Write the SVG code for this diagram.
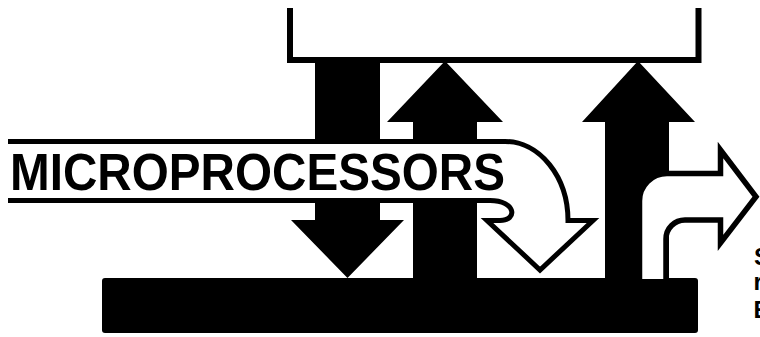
<svg xmlns="http://www.w3.org/2000/svg" width="760" height="337" viewBox="0 0 760 337">
  <style>
    .solid { fill: #000; stroke: none; }
    .hollow { fill: #fff; stroke: #000; stroke-width: 5; stroke-linejoin: miter; stroke-miterlimit: 10; }
    .outline { fill: none; stroke: #000; stroke-width: 6; stroke-linejoin: miter; }
    .label { font-family: "Liberation Sans", Arial, Helvetica, sans-serif; font-weight: bold; fill: #000; }
  </style>
  <rect width="760" height="337" fill="#fff"/>

  <g id="memory-box">
    <path class="outline" d="M290 8 V60 H698.5 V8"/>
  </g>

  <g id="connectors">
    <path id="arrow-down-1" class="solid" d="M315 60 H380 V220 H404 L347.5 278 L291 220 H315 Z"/>
    <path id="arrow-up-1" class="solid" d="M413 278 V122 H387 L445 61 L503 122 H477 V278 Z"/>
    <path id="arrow-up-2" class="solid" d="M605 278 V122 H582 L638 61 L695 122 H669 V278 Z"/>
  </g>

  <g id="microprocessors">
    <path class="hollow" d="M8 141.5 H505 A63 79 0 0 1 568 220.5 H593 L540 270 L487 220.5 H500 C518 220.5 516 200.5 490 200.5 H8"/>
    <text class="label" x="10" y="190" font-size="52" textLength="495" lengthAdjust="spacingAndGlyphs">MICROPROCESSORS</text>
  </g>

  <g id="bus">
    <rect class="solid" x="102" y="278" width="596" height="55" rx="3"/>
  </g>

  <g id="output-arrow">
    <path class="hollow" style="stroke-width:5.5" d="M639.5 279 V201 A27.5 27.5 0 0 1 667 173.5 H720.5 V150 L756 196.75 L720.5 243 V220 H685 A19 19 0 0 0 666 239 V279"/>
  </g>

  <g id="edge-fragments">
    <text class="label" x="754" y="265" font-size="24">S</text>
    <text class="label" x="753.5" y="290" font-size="24">r</text>
    <text class="label" x="753.5" y="318" font-size="24">E</text>
  </g>
</svg>
